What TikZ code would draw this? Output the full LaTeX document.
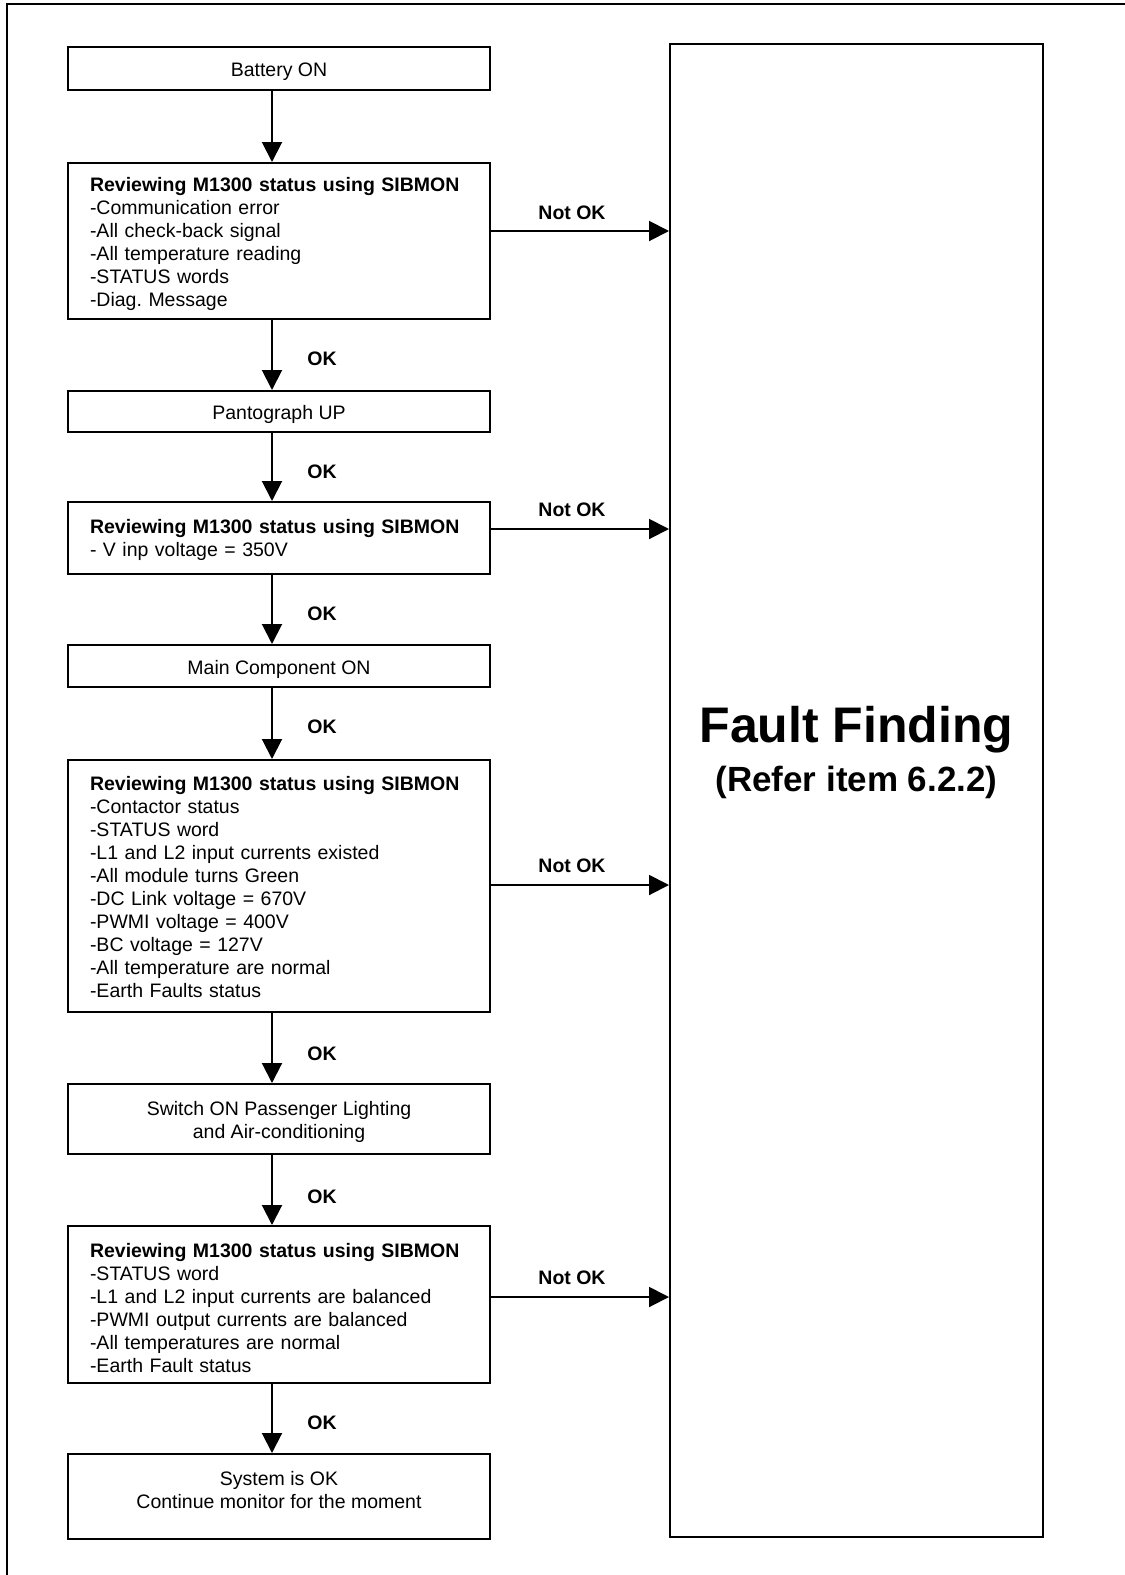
\documentclass[tikz,border=0pt]{standalone}
\usepackage{fontspec}
\setmainfont{Liberation Sans}
\usetikzlibrary{arrows.meta}
\frenchspacing
\begin{document}
\begin{tikzpicture}[x=1pt,y=-1pt,
  every node/.style={font=\fontsize{19.5}{23}\selectfont},
  stepbox/.style={draw, line width=2pt, minimum width=422pt, inner sep=0pt},
  steptext/.style={align=center, inner sep=0pt},
  listtext/.style={align=left, text width=378pt, inner sep=0pt},
  arr/.style={line width=2pt, -{Triangle[length=20pt,width=20pt]}},
  lbl/.style={font=\fontsize{19.5}{23}\selectfont\bfseries},
]
\useasboundingbox (0,0) rectangle (1125,1575);

% page frame (top and left edges)
\draw[line width=2.5pt] (1125,4) -- (7,4) -- (7,1575);

% flow column
\coordinate (col) at (272,0);

% boxes
\node[stepbox, minimum height=42.5pt] (b1) at (279,68.5) {};
\node[stepbox, minimum height=156pt] (b2) at (279,241) {};
\node[stepbox, minimum height=41pt] (b3) at (279,411.5) {};
\node[stepbox, minimum height=72pt] (b4) at (279,538) {};
\node[stepbox, minimum height=42pt] (b5) at (279,666) {};
\node[stepbox, minimum height=252pt] (b6) at (279,886) {};
\node[stepbox, minimum height=70pt] (b7) at (279,1119) {};
\node[stepbox, minimum height=157pt] (b8) at (279,1304.5) {};
\node[stepbox, minimum height=85pt] (b9) at (279,1496.5) {};

% box texts
\node[steptext] (b1t) at ([yshift=-3pt]b1.center) {Battery ON};
\node[listtext] (b2t) at ([yshift=-3pt]b2.center) {\textbf{Reviewing M1300 status using SIBMON}\\
-Communication error\\-All check-back signal\\-All temperature reading\\-STATUS words\\-Diag. Message};
\node[steptext] (b3t) at ([yshift=-3pt]b3.center) {Pantograph UP};
\node[listtext] (b4t) at ([yshift=-2pt]b4.center) {\textbf{Reviewing M1300 status using SIBMON}\\- V inp voltage = 350V};
\node[steptext] (b5t) at ([yshift=-3pt]b5.center) {Main Component ON};
\node[listtext] (b6t) at ([yshift=-1pt]b6.center) {\textbf{Reviewing M1300 status using SIBMON}\\
-Contactor status\\-STATUS word\\-L1 and L2 input currents existed\\-All module turns Green\\
-DC Link voltage = 670V\\-PWMI voltage = 400V\\-BC voltage = 127V\\-All temperature are normal\\-Earth Faults status};
\node[steptext] (b7t) at ([yshift=-3pt]b7.center) {Switch ON Passenger Lighting\\and Air-conditioning};
\node[listtext] (b8t) at ([yshift=-4pt]b8.center) {\textbf{Reviewing M1300 status using SIBMON}\\
-STATUS word\\-L1 and L2 input currents are balanced\\-PWMI output currents are balanced\\-All temperatures are normal\\-Earth Fault status};
\node[steptext] (b9t) at ([yshift=6pt]b9.center) {System is OK\\Continue monitor for the moment};

% fault finding block
\node[draw, line width=2pt, minimum width=373pt, minimum height=1493pt, inner sep=0pt] (ff) at (856.5,790.5) {};
\node[font=\fontsize{50}{56}\selectfont\bfseries] (fft) at (856.5,730) {Fault Finding};
\node[font=\fontsize{35}{41}\selectfont\bfseries] (ffr) at (856.5,782) {(Refer item 6.2.2)};

% OK path
\draw[arr] (b1.south -| col) -- (b2.north -| col);
\draw[arr] (b2.south -| col) -- (b3.north -| col);
\draw[arr] (b3.south -| col) -- (b4.north -| col);
\draw[arr] (b4.south -| col) -- (b5.north -| col);
\draw[arr] (b5.south -| col) -- (b6.north -| col);
\draw[arr] (b6.south -| col) -- (b7.north -| col);
\draw[arr] (b7.south -| col) -- (b8.north -| col);
\draw[arr] (b8.south -| col) -- (b9.north -| col);

\node[lbl] (ok1) at (322,359) {OK};
\node[lbl] (ok2) at (322,472) {OK};
\node[lbl] (ok3) at (322,614) {OK};
\node[lbl] (ok4) at (322,727) {OK};
\node[lbl] (ok5) at (322,1054) {OK};
\node[lbl] (ok6) at (322,1197) {OK};
\node[lbl] (ok7) at (322,1423) {OK};

% Not OK branches
\draw[arr] (b2.east |- 0,231) -- (ff.west |- 0,231);
\draw[arr] (b4.east |- 0,529) -- (ff.west |- 0,529);
\draw[arr] (b6.east |- 0,885) -- (ff.west |- 0,885);
\draw[arr] (b8.east |- 0,1297) -- (ff.west |- 0,1297);

\node[lbl] (n1) at (572,213) {Not OK};
\node[lbl] (n2) at (572,510) {Not OK};
\node[lbl] (n3) at (572,866) {Not OK};
\node[lbl] (n4) at (572,1278) {Not OK};
\end{tikzpicture}
\end{document}
